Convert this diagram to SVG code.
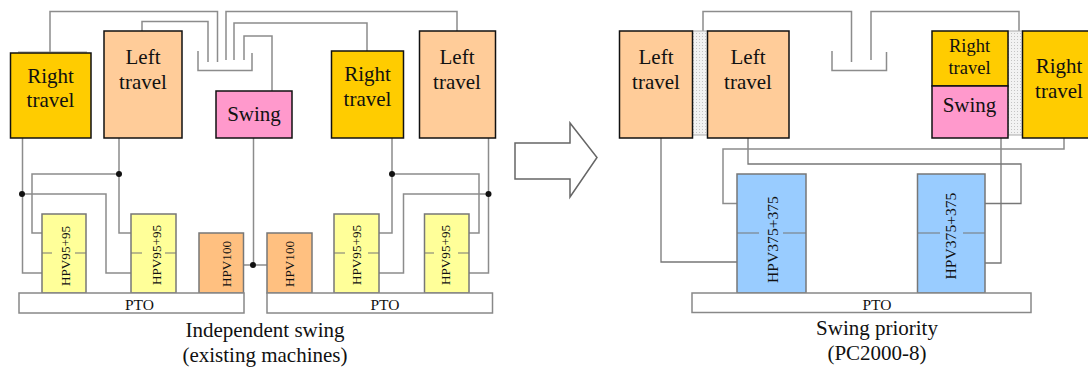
<svg xmlns="http://www.w3.org/2000/svg" width="1088" height="367" viewBox="0 0 1088 367">
<style>
text{font-family:"Liberation Serif","Times New Roman",serif;fill:#111;text-anchor:middle}
.t{font-size:21px}
.s{font-size:18.500px}
.c{font-size:21px}
.p{font-size:15.500px}
.v{font-size:13.200px}
.b{font-size:15.600px}
.box{stroke:#111;stroke-width:1.5}
.pump{stroke:#777;stroke-width:1.5}
.pto{fill:#fff;stroke:#888;stroke-width:1.5}
.ln{fill:none;stroke:#8c8c8c;stroke-width:1.5}
.ln2{fill:none;stroke:#777;stroke-width:1.3}
.dash{fill:none;stroke:#777;stroke-width:1.2}
.dot{fill:#111}
</style>
<defs>
<pattern id="hatch" width="3" height="3" patternUnits="userSpaceOnUse"><rect width="3" height="3" fill="#f2f2f2"/><rect width="1" height="1" fill="#c4c4c4"/></pattern>
</defs>
<rect width="1088" height="367" fill="#fff"/>
<g id="connectors">
<path class="ln" d="M50 52V11.500H217.500V62"/>
<path class="ln" d="M18 52H87" stroke-opacity=".6"/>
<path class="ln" d="M142 31V21.500H208V62"/>
<path class="ln" d="M198 51V70.500H252V53"/>
<path class="ln" d="M457 31V11.500H226V60"/>
<path class="ln" d="M367 51V23H234V60"/>
<path class="ln" d="M272 91V36H244V60"/>
<path class="ln" d="M22.500 138V273H42"/>
<path class="ln" d="M22 194H106V273H131"/>
<path class="ln" d="M119 138V233H131"/>
<path class="ln" d="M119 174H32V233H42"/>
<path class="ln" d="M253.500 138V265"/>
<path class="ln" d="M243 265H267"/>
<path class="ln" d="M392 138V233H379"/>
<path class="ln" d="M392 174H479V233H469"/>
<path class="ln" d="M488.500 138V273H469"/>
<path class="ln" d="M488.500 194H403.500V273H379"/>
<path class="ln" d="M703 31V11.500H851.500V62"/>
<path class="ln" d="M871 60V11.500H1019V31"/>
<path class="ln" d="M832 51V70.500H886.500V52"/>
<path class="ln2" d="M661 138V262H737"/>
<path class="ln2" d="M748 138V164H1021V203.500H985"/>
<path class="ln2" d="M1001 138V263H985"/>
<path class="ln" d="M1064 138V149H723V203.500H737"/>
<circle class="dot" cx="22" cy="194" r="3"/>
<circle class="dot" cx="119" cy="174" r="3"/>
<circle class="dot" cx="253" cy="265" r="3"/>
<circle class="dot" cx="392" cy="174" r="3"/>
<circle class="dot" cx="488.500" cy="194" r="3"/>
</g>
<g id="right-travel-1"><rect class="box" x="10.500" y="53" width="80.500" height="85" fill="#ffcc00"/><text class="t" x="50.500" y="83">Right</text><text class="t" x="50.500" y="107">travel</text></g>
<g id="left-travel-1"><rect class="box" x="104" y="31" width="78" height="107" fill="#ffcc99"/><text class="t" x="143" y="64">Left</text><text class="t" x="143" y="89">travel</text></g>
<g id="swing-1"><rect class="box" x="216" y="91" width="76" height="47" fill="#ff99cc"/><text class="t" x="254" y="121">Swing</text></g>
<g id="right-travel-2"><rect class="box" x="331.500" y="51" width="72" height="87" fill="#ffcc00"/><text class="t" x="367.500" y="81">Right</text><text class="t" x="367.500" y="105.500">travel</text></g>
<g id="left-travel-2"><rect class="box" x="419.500" y="31" width="76" height="107" fill="#ffcc99"/><text class="t" x="457" y="64">Left</text><text class="t" x="457" y="89">travel</text></g>
<g id="pump-1"><rect class="pump" x="42" y="214" width="44" height="79" fill="#ffff99"/><path class="dash" d="M42 253H52M75 253H86"/><text class="v" transform="translate(70 256) rotate(-90)">HPV95+95</text></g>
<g id="pump-2"><rect class="pump" x="131" y="214" width="45" height="79" fill="#ffff99"/><path class="dash" d="M131 253H142M165 253H176"/><text class="v" transform="translate(161 255) rotate(-90)">HPV95+95</text></g>
<g id="pump-3"><rect class="pump" x="199" y="233" width="44.500" height="60" fill="#ffc080"/><text class="v" transform="translate(231 264) rotate(-90)">HPV100</text></g>
<g id="pump-4"><rect class="pump" x="267" y="233" width="45" height="60" fill="#ffc080"/><text class="v" transform="translate(294 264) rotate(-90)">HPV100</text></g>
<g id="pump-5"><rect class="pump" x="334" y="214" width="45" height="79" fill="#ffff99"/><path class="dash" d="M334 253H345M368 253H379"/><text class="v" transform="translate(361 255) rotate(-90)">HPV95+95</text></g>
<g id="pump-6"><rect class="pump" x="424.500" y="214" width="44.500" height="79" fill="#ffff99"/><path class="dash" d="M424.500 253H434M458 253H469"/><text class="v" transform="translate(450 255) rotate(-90)">HPV95+95</text></g>
<g id="pto-1"><rect class="pto" x="19" y="293" width="225" height="20"/><text class="p" x="139.500" y="310">PTO</text></g>
<g id="pto-2"><rect class="pto" x="267" y="293" width="225.500" height="20"/><text class="p" x="385" y="310">PTO</text></g>
<text class="c" x="265" y="337">Independent swing</text>
<text class="c" x="265" y="361.500">(existing machines)</text>
<polygon id="arrow" points="515,143 570,143 570,123 597,157.500 570,197 570,179 515,179" fill="#fff" stroke="#666" stroke-width="1.5"/>
<rect id="hatch-1" x="692.500" y="31" width="15" height="104" fill="url(#hatch)" stroke="#aaa" stroke-width="1"/>
<rect id="hatch-2" x="1008" y="31" width="14.500" height="104" fill="url(#hatch)" stroke="#aaa" stroke-width="1"/>
<g id="left-travel-a"><rect class="box" x="619.500" y="31" width="73" height="107" fill="#ffcc99"/><text class="t" x="656" y="64">Left</text><text class="t" x="656" y="89">travel</text></g>
<g id="left-travel-b"><rect class="box" x="707.500" y="31" width="81.500" height="107" fill="#ffcc99"/><text class="t" x="748" y="64">Left</text><text class="t" x="748" y="89">travel</text></g>
<g id="right-travel-small"><rect class="box" x="932" y="31" width="76" height="55" fill="#ffcc00"/><text class="s" x="969.500" y="52">Right</text><text class="s" x="969.500" y="74">travel</text></g>
<g id="swing-2"><rect class="box" x="932" y="86" width="76" height="52" fill="#ff99cc"/><text class="t" x="969.500" y="112">Swing</text></g>
<g id="right-travel-big"><rect class="box" x="1022.500" y="31" width="70" height="107" fill="#ffcc00"/><text class="t" x="1059" y="73">Right</text><text class="t" x="1059" y="98">travel</text></g>
<g id="pump-7"><rect class="pump" x="737" y="174" width="69" height="119" fill="#99ccff"/><path class="dash" d="M737 233H759M783 233H806"/><text class="b" transform="translate(777.500 239.500) rotate(-90)">HPV375+375</text></g>
<g id="pump-8"><rect class="pump" x="917.500" y="174" width="67.500" height="119" fill="#99ccff"/><path class="dash" d="M917.500 233H940M963 233H985"/><text class="b" transform="translate(955.500 236) rotate(-90)">HPV375+375</text></g>
<g id="pto-3"><rect class="pto" x="692" y="293" width="339" height="19.500" stroke="#aaa"/><text class="p" x="877" y="310">PTO</text></g>
<text class="c" x="877" y="335">Swing priority</text>
<text class="c" x="877" y="360">(PC2000-8)</text>
</svg>
